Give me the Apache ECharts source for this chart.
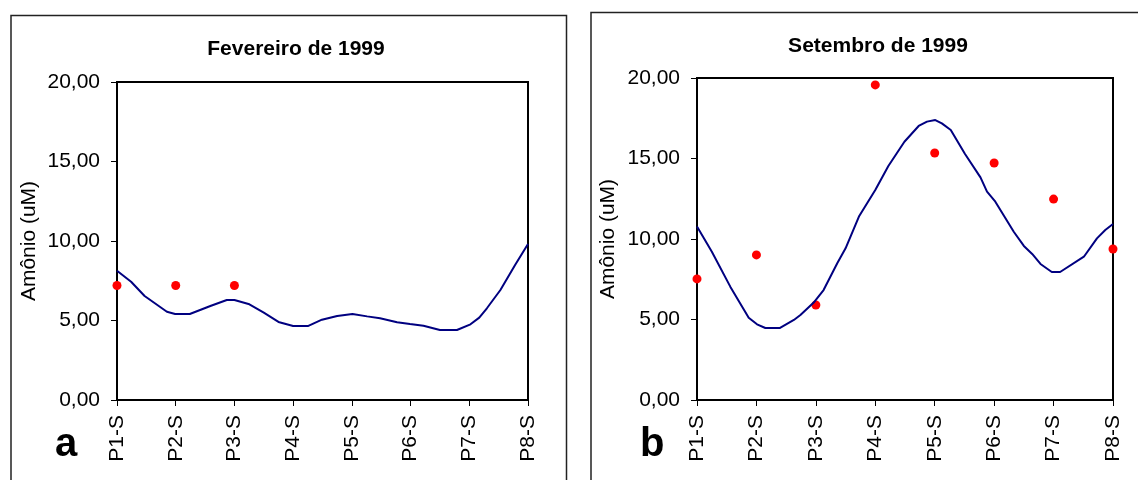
<!DOCTYPE html>
<html>
<head>
<meta charset="utf-8">
<script src="https://cdn.jsdelivr.net/npm/echarts@6/dist/echarts.min.js"></script>
<style>
  html, body { margin: 0; padding: 0; background: #fff; }
  #chart { width: 1138px; height: 480px; }
</style>
</head>
<body>
<div id="chart"></div>
<script>
// estações
var categories = ['P1-S', 'P2-S', 'P3-S', 'P4-S', 'P5-S', 'P6-S', 'P7-S', 'P8-S'];
var yTicks = [0, 5, 10, 15, 20];

// Fevereiro de 1999 - pontos medidos (só P1..P3)
var pontosFev = [7.2, 7.2, 7.2, null, null, null, null, null];
// curva (posição ao longo das estações, valor)
var curvaFevX = [0, 0.24, 0.47, 0.85, 0.99, 1.24, 1.59, 1.87, 2.0, 2.24, 2.5, 2.75, 3.0, 3.25, 3.49, 3.75, 4.01, 4.26, 4.48, 4.77, 4.99, 5.22, 5.5, 5.79, 6.02, 6.17, 6.3, 6.53, 6.78, 7.0];
var curvaFevY = [8.13, 7.44, 6.54, 5.55, 5.41, 5.41, 5.91, 6.29, 6.29, 6.04, 5.49, 4.91, 4.65, 4.65, 5.05, 5.28, 5.41, 5.26, 5.14, 4.89, 4.78, 4.67, 4.40, 4.40, 4.76, 5.18, 5.77, 6.92, 8.49, 9.81];

// Setembro de 1999
var pontosSet = [7.52, 9.01, 5.90, 19.57, 15.34, 14.72, 12.48, 9.38];
var curvaSetX = [0, 0.25, 0.56, 0.87, 1.01, 1.15, 1.39, 1.63, 1.74, 1.96, 2.13, 2.36, 2.5, 2.73, 3.0, 3.22, 3.49, 3.73, 3.87, 4.01, 4.12, 4.27, 4.51, 4.77, 4.88, 5.02, 5.33, 5.5, 5.64, 5.78, 5.97, 6.11, 6.51, 6.73, 6.87, 7.0];
var curvaSetY = [10.77, 9.21, 7.04, 5.11, 4.70, 4.47, 4.47, 4.97, 5.28, 6.04, 6.83, 8.49, 9.42, 11.43, 13.04, 14.53, 16.04, 17.02, 17.29, 17.39, 17.18, 16.77, 15.28, 13.83, 12.94, 12.32, 10.45, 9.57, 9.07, 8.45, 7.95, 7.95, 8.90, 10.04, 10.56, 10.93];

function pares(xs, ys) {
    var out = [];
    for (var i = 0; i < xs.length; i++) out.push([xs[i], ys[i]]);
    return out;
}
function pontos(vals) {
    var out = [];
    vals.forEach(function (v, i) { if (v !== null) out.push([i, v]); });
    return out;
}

var fonte = 'Liberation Sans, Arial, sans-serif';

function eixoX(idx) {
    return {
        type: 'value', gridIndex: idx, min: 0, max: categories.length - 1, interval: 1,
        axisLine: { lineStyle: { color: '#000', width: 2 } },
        axisTick: { show: true, length: 6, lineStyle: { color: '#000', width: 1 } },
        splitLine: { show: false },
        axisLabel: {
            rotate: 90, margin: 15, color: '#000', fontSize: 21, fontFamily: fonte,
            formatter: function (v) { return categories[v]; }
        }
    };
}
function eixoY(idx, gap) {
    return {
        type: 'value', gridIndex: idx, min: yTicks[0], max: yTicks[yTicks.length - 1], interval: 5,
        name: 'Amônio (uM)', nameLocation: 'middle', nameGap: gap,
        nameTextStyle: { fontSize: 21, color: '#000', fontFamily: fonte },
        axisLine: { show: true, lineStyle: { color: '#000', width: 2 } },
        axisTick: { show: true, length: 6, lineStyle: { color: '#000', width: 1 } },
        splitLine: { show: false },
        axisLabel: {
            margin: 17, color: '#000', fontSize: 21, fontFamily: fonte,
            formatter: function (v) { return v.toFixed(2).replace('.', ','); }
        }
    };
}

var dom = document.getElementById('chart');
var myChart = echarts.init(dom);

option = {
    animation: false,
    backgroundColor: '#fff',
    title: [
        { text: 'Fevereiro de 1999', left: 291, top: 34, textAlign: 'center',
          textStyle: { fontSize: 21, fontWeight: 'bold', color: '#000', fontFamily: fonte } },
        { text: 'Setembro de 1999', left: 873, top: 31, textAlign: 'center',
          textStyle: { fontSize: 21, fontWeight: 'bold', color: '#000', fontFamily: fonte } }
    ],
    graphic: [
        { type: 'rect', shape: { x: 11, y: 15.5, width: 555.5, height: 480 },
          style: { fill: 'none', stroke: '#222', lineWidth: 1.5 } },
        { type: 'rect', shape: { x: 591, y: 12.5, width: 560, height: 480 },
          style: { fill: 'none', stroke: '#222', lineWidth: 1.5 } },
        { type: 'text', left: 55, top: 425,
          style: { text: 'a', fill: '#000', font: 'bold 40px Liberation Sans, Arial, sans-serif' } },
        { type: 'text', left: 640, top: 425,
          style: { text: 'b', fill: '#000', font: 'bold 40px Liberation Sans, Arial, sans-serif' } }
    ],
    grid: [
        { left: 117, top: 82, width: 411, height: 318, show: true, borderColor: '#000', borderWidth: 2, backgroundColor: '#fff' },
        { left: 697, top: 78, width: 416, height: 322, show: true, borderColor: '#000', borderWidth: 2, backgroundColor: '#fff' }
    ],
    xAxis: [eixoX(0), eixoX(1)],
    yAxis: [eixoY(0, 77), eixoY(1, 78)],
    series: [
        { type: 'line', xAxisIndex: 0, yAxisIndex: 0, data: pares(curvaFevX, curvaFevY),
          showSymbol: false, lineStyle: { color: '#000080', width: 2 } },
        { type: 'scatter', xAxisIndex: 0, yAxisIndex: 0, data: pontos(pontosFev),
          symbolSize: 9, itemStyle: { color: '#ff0000', opacity: 1 } },
        { type: 'line', xAxisIndex: 1, yAxisIndex: 1, data: pares(curvaSetX, curvaSetY),
          showSymbol: false, lineStyle: { color: '#000080', width: 2 } },
        { type: 'scatter', xAxisIndex: 1, yAxisIndex: 1, data: pontos(pontosSet),
          symbolSize: 9, itemStyle: { color: '#ff0000', opacity: 1 } }
    ]
};

if (option && typeof option === "object") {
    myChart.setOption(option, true);
}

window.addEventListener("resize", function () {
    myChart.resize();
})
</script>
</body>
</html>
